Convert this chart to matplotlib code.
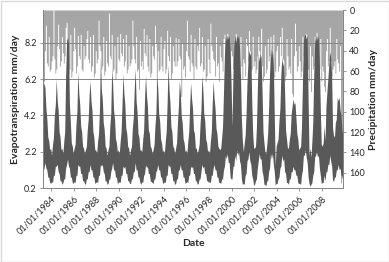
import numpy as np
import pandas as pd
import matplotlib
matplotlib.use('Agg')
from matplotlib import pyplot as plt
from matplotlib.patches import Rectangle

plt.rcParams['font.family'] = ['Lato', 'DejaVu Sans']

# ------------------ data (monthly values) ------------------
# first row starts in April 1983, the last row ends in November 2009
START = '1983-04-01'

# upper edge of the evapotranspiration band, mm/day
ET_HI = [
    [5.6, 6.0, 5.7, 4.6, 4.0, 3.0, 2.8, 2.3, 2.4],                      # 1983 Apr-Dec
    [2.0, 2.6, 3.0, 4.2, 4.8, 6.2, 5.0, 4.5, 3.3, 3.0, 2.3, 2.4],        # 1984
    [2.1, 2.8, 3.3, 6.4, 8.3, 8.5, 8.2, 4.8, 3.8, 2.7, 2.5, 2.1],        # 1985
    [2.4, 2.6, 3.7, 4.4, 6.6, 5.4, 4.8, 3.6, 3.3, 2.5, 2.4, 2.1],        # 1986
    [2.3, 2.5, 3.4, 4.0, 5.3, 6.1, 5.0, 4.5, 3.3, 3.0, 2.3, 2.3],        # 1987
    [2.1, 2.8, 3.2, 4.6, 7.4, 5.6, 5.1, 3.8, 3.4, 2.5, 2.4, 2.0],        # 1988
    [2.3, 2.5, 3.6, 4.3, 6.8, 5.9, 4.5, 4.0, 2.9, 2.7, 2.2, 2.3],        # 1989
    [2.1, 2.8, 3.3, 4.8, 6.5, 5.4, 4.8, 3.5, 3.2, 2.5, 2.4, 2.0],        # 1990
    [2.3, 2.5, 3.5, 4.1, 5.6, 6.8, 5.0, 4.4, 3.2, 3.0, 2.3, 2.3],        # 1991
    [2.2, 2.9, 3.4, 5.2, 6.4, 5.3, 4.7, 3.4, 3.2, 2.5, 2.4, 2.1],        # 1992
    [2.3, 2.6, 3.6, 4.3, 6.3, 5.7, 4.3, 3.9, 2.9, 2.7, 2.2, 2.3],        # 1993
    [2.1, 2.8, 3.3, 4.9, 7.0, 5.6, 4.9, 3.6, 3.3, 2.5, 2.4, 2.1],        # 1994
    [2.4, 2.7, 3.8, 4.7, 6.1, 5.5, 4.2, 3.8, 2.9, 2.7, 2.2, 2.3],        # 1995
    [2.1, 2.8, 3.3, 4.8, 6.0, 5.1, 4.6, 3.4, 3.2, 2.4, 2.4, 2.1],        # 1996
    [2.3, 2.6, 3.7, 4.5, 6.4, 5.6, 4.3, 3.9, 2.9, 2.7, 2.2, 2.3],        # 1997
    [2.1, 2.8, 3.3, 4.9, 6.1, 5.1, 4.6, 3.5, 3.2, 2.5, 2.4, 2.3],        # 1998
    [2.4, 3.0, 3.6, 5.5, 7.5, 8.6, 8.3, 8.6, 8.4, 8.6, 7.6, 6.0],        # 1999
    [3.6, 6.5, 8.0, 8.6, 8.2, 8.6, 8.4, 8.6, 7.9, 6.4, 4.0, 2.8],        # 2000
    [2.2, 2.7, 3.1, 4.3, 6.0, 7.2, 7.8, 7.5, 7.7, 5.0, 3.2, 2.4],        # 2001
    [2.4, 2.5, 3.5, 5.6, 7.6, 7.2, 7.6, 7.4, 5.5, 3.3, 2.7, 2.2],        # 2002
    [2.1, 2.6, 3.2, 4.6, 6.5, 7.9, 7.4, 7.8, 7.0, 4.2, 1.4, 2.5],        # 2003
    [2.7, 2.9, 3.9, 4.6, 6.4, 7.4, 6.9, 7.2, 5.4, 3.4, 2.9, 2.4],        # 2004
    [2.4, 2.9, 3.2, 4.3, 4.7, 5.1, 4.8, 4.9, 4.1, 3.2, 2.9, 2.3],        # 2005
    [2.4, 2.5, 3.6, 6.0, 8.3, 8.6, 8.7, 8.4, 8.6, 5.0, 2.0, 2.4],        # 2006
    [1.9, 2.8, 3.8, 6.4, 8.2, 8.6, 8.3, 8.6, 8.4, 7.0, 4.5, 2.6],        # 2007
    [2.5, 2.7, 3.6, 2.8, 4.7, 5.5, 6.2, 7.0, 7.7, 7.4, 6.4, 3.5],        # 2008
    [3.1, 3.0, 3.8, 4.0, 5.2, 5.0, 5.2, 4.5, 4.2, 3.4, 3.1],             # 2009 Jan-Nov
]

# lower edge of the evapotranspiration band, mm/day
ET_LO = [
    [1.1, 1.3, 1.6, 1.3, 1.2, 0.8, 0.8, 0.5, 0.45],
    [0.55, 0.5, 0.9, 0.9, 1.4, 1.4, 1.5, 1.1, 1.0, 0.6, 0.6, 0.4],
    [0.5, 0.7, 0.7, 1.3, 1.5, 1.8, 1.4, 1.3, 0.8, 0.8, 0.5, 0.45],
    [0.55, 0.5, 0.9, 0.9, 1.5, 1.4, 1.4, 1.0, 1.0, 0.6, 0.6, 0.45],
    [0.4, 0.7, 0.7, 1.1, 1.1, 1.5, 1.2, 1.2, 0.8, 0.8, 0.45, 0.5],
    [0.55, 0.5, 0.9, 0.9, 1.5, 1.4, 1.5, 1.1, 1.0, 0.6, 0.6, 0.4],
    [0.45, 0.7, 0.7, 1.1, 1.3, 1.6, 1.2, 1.2, 0.8, 0.8, 0.45, 0.5],
    [0.55, 0.5, 0.9, 0.9, 1.4, 1.3, 1.4, 1.0, 1.0, 0.6, 0.6, 0.45],
    [0.45, 0.7, 0.7, 1.1, 1.1, 1.6, 1.2, 1.2, 0.8, 0.8, 0.5, 0.4],
    [0.55, 0.5, 0.9, 1.0, 1.5, 1.3, 1.4, 1.0, 1.0, 0.6, 0.55, 0.5],
    [0.45, 0.7, 0.7, 1.1, 1.2, 1.5, 1.2, 1.2, 0.8, 0.8, 0.5, 0.45],
    [0.55, 0.5, 0.9, 0.9, 1.5, 1.4, 1.4, 1.0, 1.0, 0.6, 0.6, 0.4],
    [0.45, 0.7, 0.7, 1.2, 1.2, 1.5, 1.2, 1.2, 0.8, 0.8, 0.45, 0.5],
    [0.55, 0.5, 0.9, 0.9, 1.4, 1.3, 1.4, 1.0, 1.0, 0.6, 0.6, 0.4],
    [0.45, 0.7, 0.7, 1.1, 1.5, 1.3, 1.4, 1.0, 1.0, 0.6, 0.6, 0.5],
    [0.55, 0.5, 0.9, 0.9, 1.3, 1.5, 1.2, 1.2, 0.8, 0.8, 0.5, 0.5],
    [0.45, 0.7, 0.7, 1.2, 1.4, 2.0, 1.8, 2.1, 1.6, 1.6, 0.8, 0.7],
    [0.7, 1.4, 1.4, 2.0, 1.7, 2.3, 2.0, 2.2, 1.7, 1.5, 0.7, 0.4],
    [0.45, 0.4, 0.9, 1.0, 1.7, 1.8, 2.2, 1.7, 1.5, 0.9, 0.7, 0.35],
    [0.4, 0.6, 0.7, 1.3, 1.7, 2.1, 1.8, 1.8, 1.1, 0.9, 0.4, 0.4],
    [0.3, 0.6, 0.6, 1.1, 1.3, 2.1, 1.8, 2.1, 1.5, 1.1, 0.35, 0.45],
    [0.45, 0.7, 0.8, 1.3, 1.4, 2.0, 1.7, 1.8, 1.1, 1.0, 0.5, 0.5],
    [0.4, 0.7, 0.7, 1.1, 1.1, 1.4, 1.2, 1.2, 0.9, 0.9, 0.5, 0.45],
    [0.45, 0.4, 0.9, 1.2, 2.0, 2.0, 2.3, 1.9, 1.6, 0.8, 0.45, 0.3],
    [0.4, 0.5, 0.9, 1.1, 1.9, 2.0, 2.2, 1.9, 2.0, 1.3, 0.9, 0.45],
    [0.5, 0.5, 0.9, 0.6, 1.1, 1.1, 1.5, 1.5, 2.0, 1.7, 1.4, 0.65],
    [0.55, 0.8, 0.8, 1.2, 1.2, 1.5, 1.2, 1.3, 0.9, 0.9, 0.55],
]

# precipitation (monthly largest daily value), mm/day
PRECIP = [
    [75, 70, 40, 15, 52, 55, 26, 60, 58],
    [50, 45, 0, 48, 62, 58, 35, 14, 38, 55, 50, 26],
    [42, 52, 45, 17, 12, 30, 62, 58, 24, 66, 60, 40],
    [17, 38, 62, 55, 25, 45, 48, 24, 58, 60, 35, 48],
    [45, 28, 20, 48, 52, 26, 60, 55, 24, 66, 62, 40],
    [52, 48, 10, 35, 40, 58, 55, 26, 64, 60, 30, 52],
    [55, 3, 45, 48, 24, 60, 58, 35, 68, 62, 26, 48],
    [50, 23, 42, 45, 28, 55, 50, 24, 62, 58, 35, 55],
    [52, 48, 10, 35, 48, 52, 26, 60, 58, 78, 30, 55],
    [50, 58, 18, 42, 45, 24, 55, 60, 28, 66, 62, 35],
    [45, 48, 15, 32, 78, 40, 60, 58, 26, 55, 60, 38],
    [30, 62, 58, 20, 45, 50, 26, 68, 62, 35, 50, 55],
    [27, 55, 50, 28, 45, 48, 85, 32, 58, 55, 66, 40],
    [10, 45, 48, 60, 24, 52, 55, 68, 28, 55, 58, 35],
    [40, 17, 55, 52, 26, 60, 58, 35, 70, 65, 28, 48],
    [62, 13, 35, 40, 48, 50, 65, 26, 55, 52, 70, 35],
    [46, 50, 60, 28, 24, 50, 52, 23, 58, 55, 66, 40],
    [45, 58, 55, 28, 23, 45, 50, 62, 58, 26, 55, 68],
    [48, 52, 65, 28, 35, 50, 20, 40, 60, 58, 26, 55],
    [50, 62, 58, 45, 26, 40, 45, 18, 55, 70, 65, 35],
    [62, 58, 28, 50, 45, 26, 55, 52, 24, 66, 60, 40],
    [35, 60, 55, 26, 45, 17, 48, 50, 70, 65, 28, 45],
    [58, 55, 62, 28, 82, 85, 45, 13, 40, 60, 55, 35],
    [50, 66, 60, 26, 45, 40, 23, 24, 60, 58, 70, 35],
    [80, 45, 58, 55, 26, 45, 22, 40, 62, 58, 28, 70],
    [55, 60, 75, 80, 40, 28, 55, 50, 17, 50, 65, 58],
    [55, 50, 62, 28, 48, 52, 60, 35, 170, 165, 0],
]

TICK_YEARS = list(range(1984, 2009, 2))
ET_TICKS = [0.2, 2.2, 4.2, 6.2, 8.2]
P_TICKS = list(range(0, 161, 20))

DARK = '#595959'
LIGHT = '#a6a6a6'
GRID = '#868686'
TEXT = '#262626'

# ------------------ build the series ------------------
et_hi = np.concatenate([np.array(r, dtype=float) for r in ET_HI])
et_lo = np.concatenate([np.array(r, dtype=float) for r in ET_LO])
precip = np.concatenate([np.array(r, dtype=float) for r in PRECIP])
dates = pd.date_range(START, periods=len(et_hi), freq='MS') + pd.Timedelta(days=14)

# ------------------ figure ------------------
fig = plt.figure(figsize=(3.89, 2.62), dpi=100)
ax = fig.add_axes([43 / 389, 1 - 188 / 262, 300 / 389, 178 / 262])
ax2 = ax.twinx()

# precipitation hangs down from the top on the right axis
ax2.fill_between(dates, 0, precip, step='mid', color=LIGHT, lw=0)
ax2.set_ylim(175, 0)
ax2.set_yticks(P_TICKS)

# evapotranspiration band on the left axis, drawn over the rain
ax.set_zorder(ax2.get_zorder() + 1)
ax.patch.set_visible(False)
ax.fill_between(dates, et_lo, et_hi, color=DARK, lw=0, zorder=2)
ax.set_ylim(0.2, 10.0)
ax.set_yticks(ET_TICKS)
ax.set_yticklabels([f'{v:.1f}' for v in ET_TICKS])
ax.grid(axis='y', color=GRID, lw=0.7, zorder=1)
ax.set_axisbelow(True)

ax.set_xlim(pd.Timestamp('1983-04-12'), pd.Timestamp('2009-11-18'))
xt = [pd.Timestamp(f'{y}-01-01') for y in TICK_YEARS]
ax.set_xticks(xt)
ax.set_xticklabels([t.strftime('%d/%m/%Y') for t in xt], rotation=45,
                   ha='right', rotation_mode='anchor')

for a in (ax, ax2):
    a.tick_params(labelsize=6.5, colors=GRID, labelcolor=TEXT, length=2.5, width=0.6, pad=2)
    for s in a.spines.values():
        s.set_color(GRID)
        s.set_linewidth(0.7)
    a.spines['top'].set_visible(False)

ax.set_ylabel('Evapotranspiration mm/day', fontsize=7.5, fontweight='bold', color=TEXT, labelpad=3)
ax2.set_ylabel('Precipitation mm/day', fontsize=7.5, fontweight='bold', color=TEXT, labelpad=3)
ax.set_xlabel('Date', fontsize=7.5, fontweight='bold', color=TEXT, labelpad=2)

# chart area border
fig.patches.append(Rectangle((0.5 / 389, 0.5 / 262), 388 / 389, 261 / 262, transform=fig.transFigure,
                             fill=False, ec='#d9d9d9', lw=1.0))

plt.savefig('out.png', dpi=100)
